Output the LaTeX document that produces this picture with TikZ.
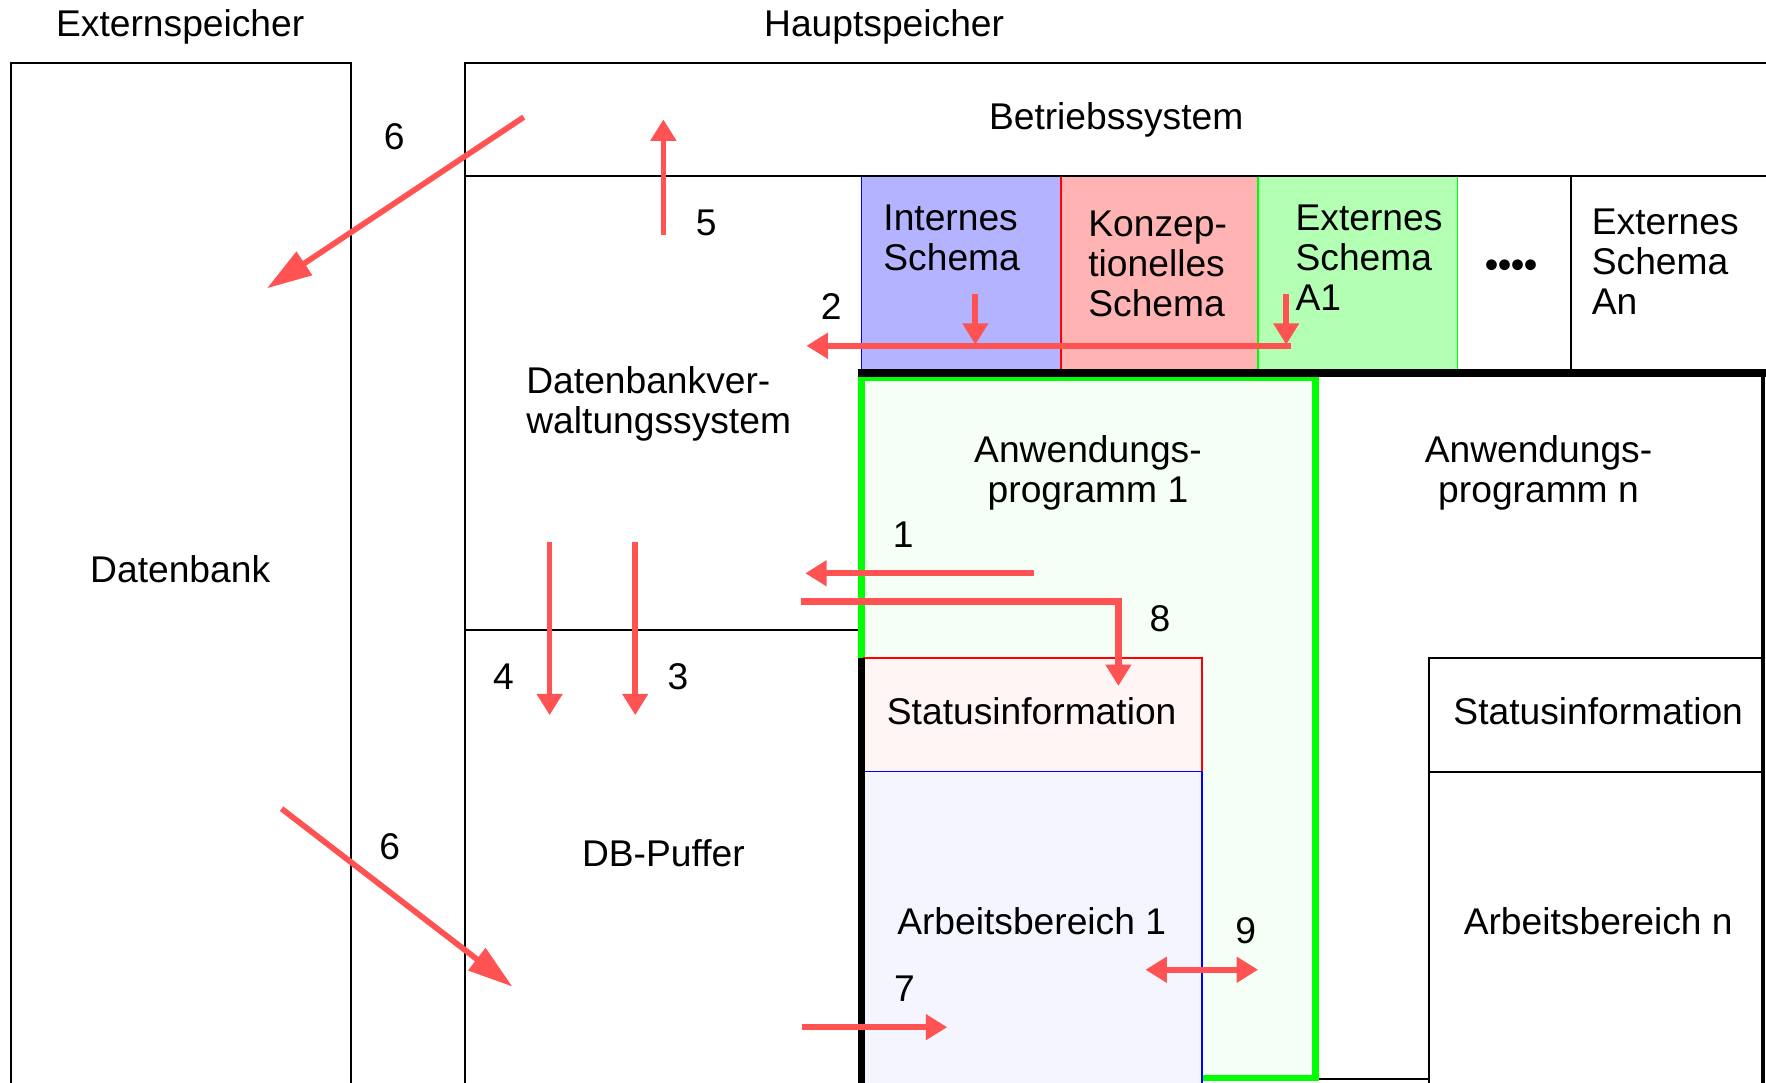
\documentclass[tikz,border=0pt]{standalone}
\usepackage{fontspec}
\setmainfont{Liberation Sans}
\usetikzlibrary{arrows.meta}
\definecolor{flowred}{RGB}{255,82,82}
\definecolor{intfill}{RGB}{179,179,255}
\definecolor{konzfill}{RGB}{255,179,179}
\definecolor{extfill}{RGB}{179,255,179}
\definecolor{appfill}{RGB}{245,255,245}
\definecolor{statfill}{RGB}{255,245,245}
\definecolor{workfill}{RGB}{245,245,255}
\definecolor{brightgreen}{RGB}{0,255,0}

\begin{document}
\begin{tikzpicture}[x=0.02cm, y=-0.02cm,
  every node/.style={inner sep=0pt, font=\fontsize{18.8}{20.2}\selectfont},
  frame/.style={draw=black, line width=1pt},
  thinbox/.style={line width=0.8pt},
  flowline/.style={draw=flowred, line width=2.9pt},
  flow/.style={flowline, -{Triangle[length=0.38cm,width=0.44cm]}},
  bothflow/.style={flowline, {Triangle[length=0.38cm,width=0.44cm]}-{Triangle[length=0.38cm,width=0.44cm]}},
  bigflow/.style={flowline, -{Triangle[length=0.8cm,width=0.48cm]}},
  lbl/.style={anchor=base},
  block/.style={anchor=north west, align=left},
  cblock/.style={anchor=north, align=center},
]
\useasboundingbox (0,0) rectangle (1568,961);
\fill[white] (0,0) rectangle (1568,961);
\clip (0,0) rectangle (1568,961);

% external storage and main memory frames
\draw[frame] (10,975) -- (10,56) -- (312,56) -- (312,975);
\draw[frame] (413,975) -- (413,56) -- (1575,56);

% schema row
\filldraw[thinbox, fill=intfill, draw=blue] (765,156) rectangle (942,330);
\filldraw[thinbox, fill=konzfill, draw=red] (942,156) rectangle (1117,330);
\filldraw[thinbox, fill=extfill, draw=brightgreen] (1117,156) rectangle (1294,330);
\draw[frame] (1395,156) -- (1395,330);
\draw[frame] (413,156) -- (1575,156);

% DBMS / buffer separator
\draw[frame] (413,559) -- (765,559);

% application program n
\draw[frame] (1168,958) -- (1269,958);
\draw[black, line width=2pt] (1565,331) -- (1565,975);
\draw[frame] (1269,975) -- (1269,584) -- (1565,584);
\draw[frame] (1269,685) -- (1565,685);

% application program 1 with its status and work areas
\filldraw[fill=appfill, draw=brightgreen, line width=3.4pt] (765,335) rectangle (1168,957);
\filldraw[thinbox, fill=statfill, draw=red] (767,584) rectangle (1067,685);
\filldraw[thinbox, fill=workfill, draw=blue] (767,685) rectangle (1067,975);
\draw[black, line width=3.4pt] (765,584) -- (765,975);
\draw[black, line width=4pt] (762,331) -- (1575,331);

% texts
\node[lbl] (extsp) at (160,32) {Externspeicher};
\node[lbl] (hauptsp) at (785,32) {Hauptspeicher};
\node[lbl] (bs) at (991,115) {Betriebssystem};
\node[block] (intschema) at (784,182) {Internes\\Schema};
\node[block] (konzschema) at (966,187) {Konzep-\\tionelles\\Schema};
\node[block] (extA1) at (1150,182) {Externes\\Schema\\A1};
\node (dots) at (1342,239) {\bfseries ••••};
\node[block] (extAn) at (1413,185) {Externes\\Schema\\An};
\node[block] (dbvs) at (467,325) {Datenbankver-\\waltungssystem};
\node[lbl] (db) at (160,517) {Datenbank};
\node[lbl] (puffer) at (589,769) {DB-Puffer};
\node[cblock] (ap1) at (966,386) {Anwendungs-\\programm 1};
\node[cblock] (apn) at (1366,386) {Anwendungs-\\programm n};
\node[lbl] (stat1) at (916,643) {Statusinformation};
\node[lbl] (statn) at (1419,643) {Statusinformation};
\node[lbl] (work1) at (916,830) {Arbeitsbereich 1};
\node[lbl] (workn) at (1419,830) {Arbeitsbereich n};

% step numbers
\node[lbl] (n6a) at (350,133) {6};
\node[lbl] (n5) at (627,209) {5};
\node[lbl] (n2) at (738,284) {2};
\node[lbl] (n1) at (802,486) {1};
\node[lbl] (n8) at (1030,561) {8};
\node[lbl] (n4) at (447,612) {4};
\node[lbl] (n3) at (602,612) {3};
\node[lbl] (n6b) at (346,763) {6};
\node[lbl] (n7) at (803,889) {7};
\node[lbl] (n9) at (1106,838) {9};

% flow end points
\coordinate (s6a) at (465,104);   \coordinate (e6a) at (237,256);
\coordinate (s5)  at (589,209);   \coordinate (e5)  at (589,106);
\coordinate (s2)  at (1146,307);  \coordinate (e2)  at (716,307);
\coordinate (s2i) at (866,261);   \coordinate (e2i) at (866,306);
\coordinate (s2e) at (1142,261);  \coordinate (e2e) at (1142,306);
\coordinate (s1)  at (918,509);   \coordinate (e1)  at (715,509);
\coordinate (s8)  at (711,534);   \coordinate (k8)  at (993,534);
\coordinate (e8)  at (993,609);
\coordinate (s4)  at (488,481);   \coordinate (e4)  at (488,635);
\coordinate (s3)  at (564,481);   \coordinate (e3)  at (564,635);
\coordinate (s6b) at (250,718);   \coordinate (e6b) at (455,876);
\coordinate (s7)  at (712,912);   \coordinate (e7)  at (841,912);
\coordinate (s9)  at (1017,861);  \coordinate (e9)  at (1117,861);

% flows
\draw[bigflow] (s6a) -- (e6a);
\draw[flow] (s5) -- (e5);
\draw[flow] (s2) -- (e2);
\draw[flow] (s2i) -- (e2i);
\draw[flow] (s2e) -- (e2e);
\draw[flow] (s1) -- (e1);
\draw[flow, line width=3.6pt] (s8) -- (k8) -- (e8);
\draw[flow] (s4) -- (e4);
\draw[flow] (s3) -- (e3);
\draw[bigflow] (s6b) -- (e6b);
\draw[flow] (s7) -- (e7);
\draw[bothflow] (s9) -- (e9);
\end{tikzpicture}
\end{document}
